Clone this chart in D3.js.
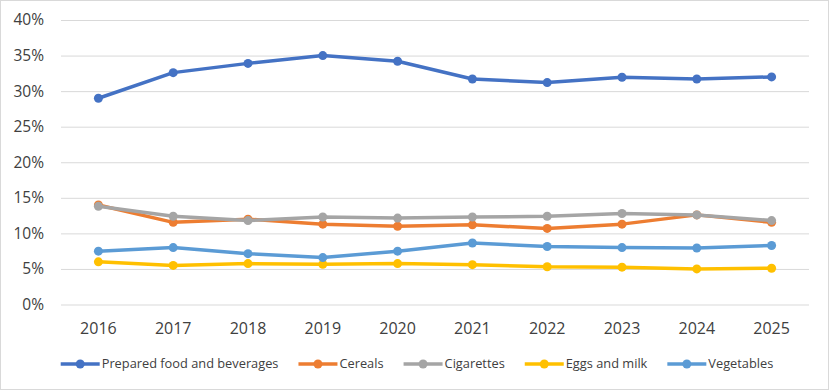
<!DOCTYPE html>
<html>
<head>
<meta charset="utf-8">
<script src="https://cdn.jsdelivr.net/npm/d3@7"></script>
<style>
  body { margin: 0; background: #fff; }
  text { font-family: "Open Sans", sans-serif; fill: #404040; }
</style>
</head>
<body>
<div id="chart"></div>
<script>
// Data
const years = ['2016', '2017', '2018', '2019', '2020', '2021', '2022', '2023', '2024', '2025'];
const yTicks = [0, 0.05, 0.10, 0.15, 0.20, 0.25, 0.30, 0.35, 0.40];

const preparedFood = [0.290, 0.326, 0.339, 0.350, 0.342, 0.317, 0.312, 0.3195, 0.317, 0.320];
const cereals      = [0.140, 0.1155, 0.120, 0.113, 0.110, 0.112, 0.107, 0.113, 0.126, 0.1155];
const cigarettes   = [0.138, 0.124, 0.118, 0.123, 0.1215, 0.123, 0.124, 0.128, 0.126, 0.118];
const eggsMilk     = [0.060, 0.055, 0.0575, 0.0565, 0.0575, 0.056, 0.053, 0.0525, 0.050, 0.051];
const vegetables   = [0.075, 0.080, 0.0715, 0.066, 0.075, 0.0865, 0.0815, 0.080, 0.0795, 0.083];

const series = [
    { name: 'Prepared food and beverages', values: preparedFood, color: '#4472C4' },
    { name: 'Cereals', values: cereals, color: '#ED7D31' },
    { name: 'Cigarettes', values: cigarettes, color: '#A5A5A5' },
    { name: 'Eggs and milk', values: eggsMilk, color: '#FFC000' },
    { name: 'Vegetables', values: vegetables, color: '#5B9BD5' }
];

const width = 830, height = 391;
const plot = { left: 61, right: 809, top: 20, bottom: 304.5 };

const svg = d3.select('#chart')
    .append('svg')
    .attr('width', width)
    .attr('height', height);

// chart border
svg.append('rect')
    .attr('x', 0.5).attr('y', 0.5)
    .attr('width', 828).attr('height', 389)
    .attr('fill', '#fff')
    .attr('stroke', '#d9d9d9');

const x = d3.scaleBand().domain(years).range([plot.left, plot.right]);
const y = d3.scaleLinear().domain([0, 0.40]).range([plot.bottom, plot.top]);

// gridlines + y labels
const yAxis = d3.axisLeft(y)
    .tickValues(yTicks)
    .tickFormat(d3.format('.0%'))
    .tickSize(-(plot.right - plot.left))
    .tickPadding(17);

svg.append('g')
    .attr('transform', `translate(${plot.left},0)`)
    .call(yAxis)
    .call(g => g.select('.domain').remove())
    .call(g => g.selectAll('.tick line').attr('stroke', '#d9d9d9').attr('stroke-width', 1))
    .call(g => g.selectAll('.tick text')
        .attr('font-size', '15.5px')
        .attr('font-family', '"Open Sans", sans-serif')
        .attr('fill', '#404040'));

// x labels
const xAxis = d3.axisBottom(x).tickSize(0).tickPadding(18);
svg.append('g')
    .attr('transform', `translate(0,${plot.bottom})`)
    .call(xAxis)
    .call(g => g.select('.domain').remove())
    .call(g => g.selectAll('.tick text')
        .attr('font-size', '16px')
        .attr('font-family', '"Open Sans", sans-serif')
        .attr('fill', '#404040'));

const line = d3.line()
    .x((d, i) => x(years[i]) + x.bandwidth() / 2)
    .y(d => y(d));

series.forEach(s => {
    const g = svg.append('g');
    g.append('path')
        .attr('d', line(s.values))
        .attr('fill', 'none')
        .attr('stroke', s.color)
        .attr('stroke-width', 3.5)
        .attr('stroke-linejoin', 'round')
        .attr('stroke-linecap', 'round');
    g.selectAll('circle')
        .data(s.values)
        .enter()
        .append('circle')
        .attr('cx', (d, i) => x(years[i]) + x.bandwidth() / 2)
        .attr('cy', d => y(d))
        .attr('r', 4.5)
        .attr('fill', s.color);
});

// legend
const legend = svg.append('g');
const legendY = 364;
let lx = 0;
series.forEach(s => {
    const item = legend.append('g').attr('transform', `translate(${lx},0)`);
    item.append('line')
        .attr('x1', 0).attr('x2', 39)
        .attr('y1', legendY).attr('y2', legendY)
        .attr('stroke', s.color)
        .attr('stroke-width', 3.5);
    item.append('circle')
        .attr('cx', 19.5).attr('cy', legendY)
        .attr('r', 4.5)
        .attr('fill', s.color);
    const t = item.append('text')
        .attr('x', 41)
        .attr('y', legendY)
        .attr('dy', '0.35em')
        .attr('font-size', '12.8px')
        .attr('fill', '#333')
        .text(s.name);
    lx += 41 + t.node().getComputedTextLength() + 20;
});
const legendWidth = lx - 20;
legend.attr('transform', `translate(${417 - legendWidth / 2},0)`);
</script>
</body>
</html>
